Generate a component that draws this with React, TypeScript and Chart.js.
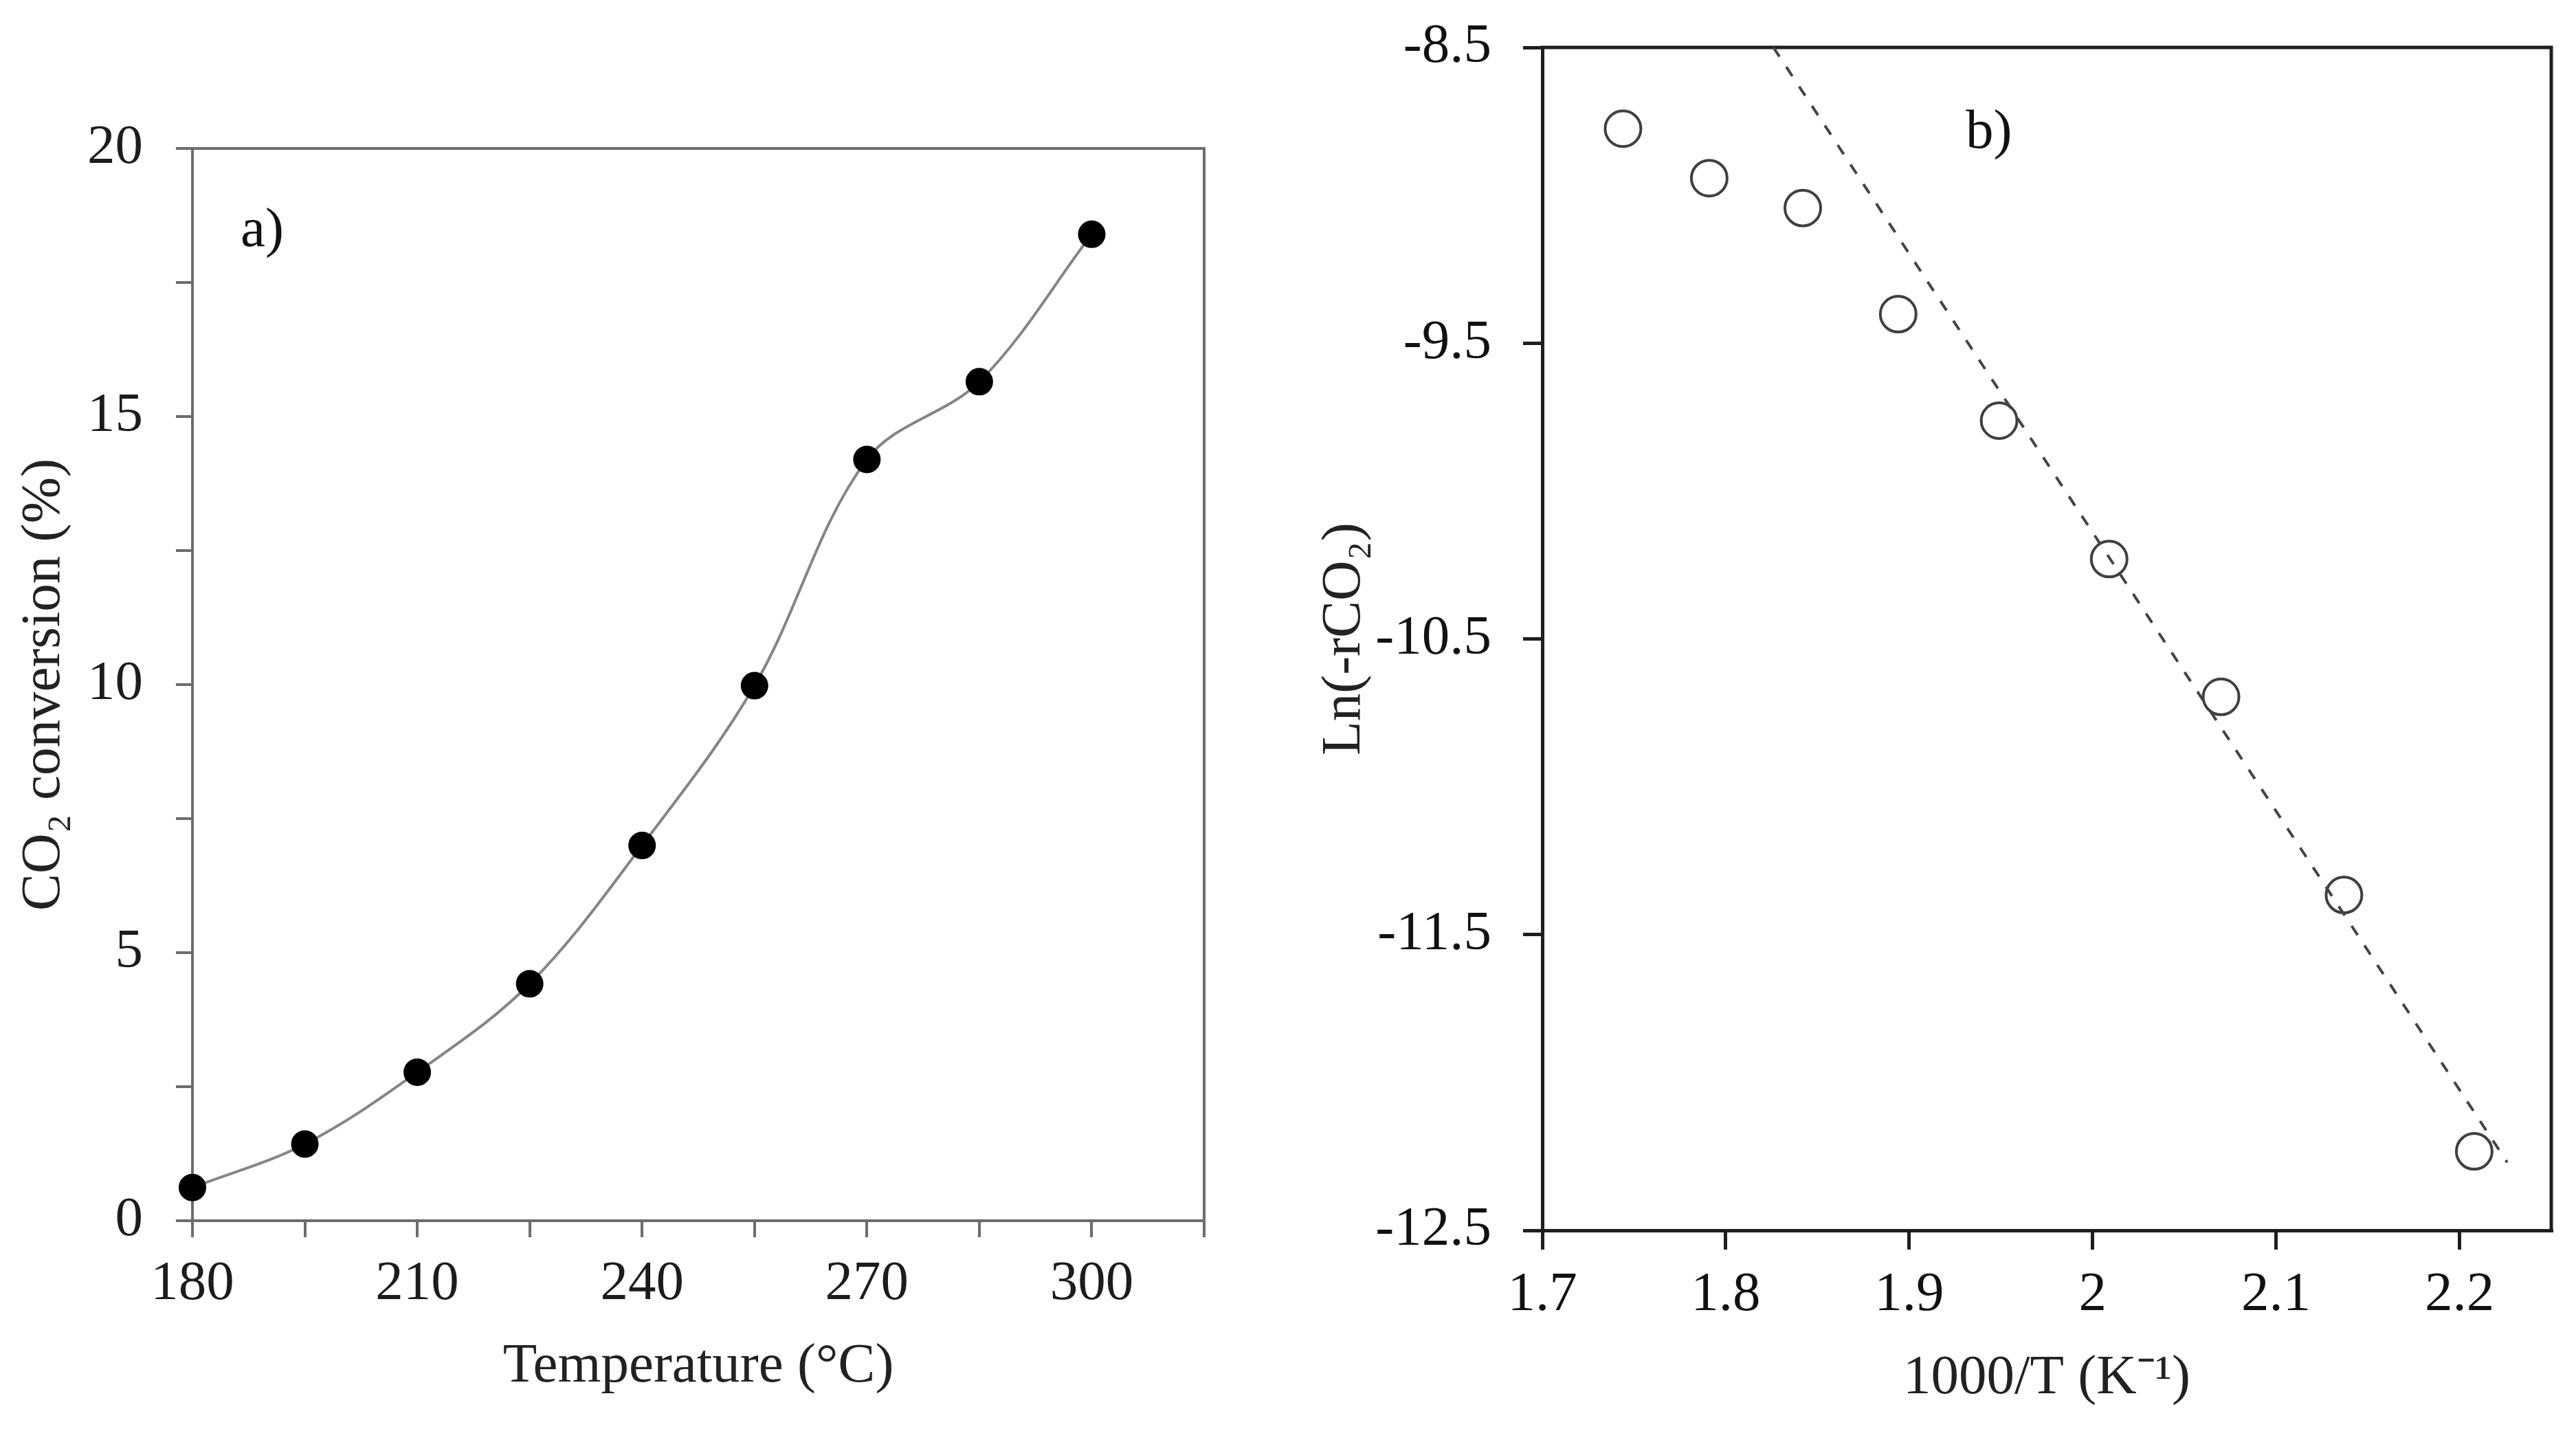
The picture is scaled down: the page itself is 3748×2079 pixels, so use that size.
import React, { useEffect, useRef } from 'react';
import { Chart, registerables } from 'chart.js';

Chart.register(...registerables);

// ---------- Panel a) data ----------
const temperatureC = [180, 195, 210, 225, 240, 255, 270, 285, 300];
const conversionPct = [0.62, 1.43, 2.77, 4.42, 7.0, 9.98, 14.2, 15.65, 18.4];
const tempTicks = [180, 195, 210, 225, 240, 255, 270, 285, 300, 315];
const tempTickLabels = [180, 210, 240, 270, 300];
const convTicks = [0, 2.5, 5, 7.5, 10, 12.5, 15, 17.5, 20];
const convTickLabels = [0, 5, 10, 15, 20];

// ---------- Panel b) data ----------
const invTemp = [1.744, 1.791, 1.842, 1.894, 1.949, 2.009, 2.07, 2.137, 2.208];
const lnRate = [-8.775, -8.942, -9.043, -9.402, -9.762, -10.23, -10.696, -11.366, -12.233];
const fitInvTemp = [1.826, 2.226];
const fitLnRate = [-8.5, -12.27];
const invTempTicks = [1.7, 1.8, 1.9, 2.0, 2.1, 2.2];
const lnRateTicks = [-12.5, -11.5, -10.5, -9.5, -8.5];

const FONT = "'Liberation Serif', 'Times New Roman', serif";
const FS = 81;

function zeroPad(s: any) {
  s.paddingTop = 0;
  s.paddingBottom = 0;
  s.paddingLeft = 0;
  s.paddingRight = 0;
}

function framePlugin(color: string, width: number, label: string, dx: number, dy: number) {
  return {
    id: 'frameAndLabel',
    beforeDatasetsDraw(chart: any) {
      const { ctx, chartArea: a } = chart;
      ctx.save();
      ctx.strokeStyle = color;
      ctx.lineWidth = width;
      ctx.beginPath();
      ctx.moveTo(a.left - width / 2, a.top);
      ctx.lineTo(a.right, a.top);
      ctx.lineTo(a.right, a.bottom + width / 2);
      ctx.stroke();
      ctx.restore();
    },
    afterDraw(chart: any) {
      const { ctx, chartArea: a } = chart;
      ctx.save();
      ctx.font = `${FS}px ${FONT}`;
      ctx.fillStyle = '#111';
      ctx.textBaseline = 'alphabetic';
      ctx.textAlign = 'left';
      ctx.fillText(label, a.left + dx, a.top + dy);
      ctx.restore();
    },
  };
}

function makeConfigA(): any {
  const AX = '#6c6c6c';
  return {
    type: 'line',
    data: {
      datasets: [
        {
          data: temperatureC.map((x, i) => ({ x, y: conversionPct[i] })),
          borderColor: '#858585',
          borderWidth: 4,
          tension: 0.35,
          fill: false,
          pointRadius: 19,
          pointBorderWidth: 2,
          pointBackgroundColor: '#000',
          pointBorderColor: '#000',
          clip: false,
        },
      ],
    },
    options: {
      responsive: false,
      animation: false,
      events: [],
      layout: { padding: { left: 0, top: 216, right: 48, bottom: 0 } },
      plugins: { legend: { display: false }, tooltip: { enabled: false } },
      scales: {
        x: {
          type: 'linear',
          min: 180,
          max: 315,
          afterFit: (s: any) => { s.height = 303; zeroPad(s); },
          afterBuildTicks: (s: any) => { s.ticks = tempTicks.map((v) => ({ value: v })); },
          ticks: {
            autoSkip: false,
            maxRotation: 0,
            minRotation: 0,
            padding: 20,
            color: '#1c1c1c',
            font: { family: FONT, size: FS },
            callback: (v: number) => (tempTickLabels.includes(v) ? String(v) : ''),
          },
          grid: { display: true, drawOnChartArea: false, drawTicks: true, tickLength: 24, color: AX, lineWidth: 4 },
          border: { display: true, color: AX, width: 4 },
          title: {
            display: true,
            text: 'Temperature (°C)',
            color: '#222',
            font: { family: FONT, size: FS },
            padding: { top: 0, bottom: 42 },
          },
        },
        y: {
          type: 'linear',
          min: 0,
          max: 20,
          afterFit: (s: any) => { s.width = 280; zeroPad(s); },
          afterBuildTicks: (s: any) => { s.ticks = convTicks.map((v) => ({ value: v })); },
          ticks: {
            autoSkip: false,
            padding: 48,
            color: '#1c1c1c',
            font: { family: FONT, size: FS },
            callback: (v: number) => (convTickLabels.includes(v) ? String(v) : ''),
          },
          grid: { display: true, drawOnChartArea: false, drawTicks: true, tickLength: 24, color: AX, lineWidth: 4 },
          border: { display: true, color: AX, width: 4 },
          title: {
            display: true,
            text: 'CO₂ conversion (%)',
            color: '#222',
            font: { family: FONT, size: FS },
            padding: { top: 16, bottom: 0 },
          },
        },
      },
    },
    plugins: [framePlugin(AX, 4, 'a)', 70, 142)],
  };
}

function makeConfigB(): any {
  const AX = '#1e1e1e';
  return {
    type: 'scatter',
    data: {
      datasets: [
        {
          data: fitInvTemp.map((x, i) => ({ x, y: fitLnRate[i] })),
          showLine: true,
          borderColor: '#444',
          borderWidth: 4,
          borderDash: [16, 18],
          pointRadius: 0,
          fill: false,
          clip: false,
        },
        {
          data: invTemp.map((x, i) => ({ x, y: lnRate[i] })),
          showLine: false,
          pointRadius: 26,
          pointBorderWidth: 4,
          pointBorderColor: '#404040',
          pointBackgroundColor: 'rgba(0,0,0,0)',
          clip: false,
        },
      ],
    },
    options: {
      responsive: false,
      animation: false,
      events: [],
      layout: { padding: { left: 0, top: 69, right: 36, bottom: 0 } },
      plugins: { legend: { display: false }, tooltip: { enabled: false } },
      scales: {
        x: {
          type: 'linear',
          min: 1.7,
          max: 2.25,
          afterFit: (s: any) => { s.height = 289; zeroPad(s); },
          afterBuildTicks: (s: any) => { s.ticks = invTempTicks.map((v) => ({ value: v })); },
          ticks: {
            autoSkip: false,
            maxRotation: 0,
            minRotation: 0,
            padding: 18,
            color: '#111',
            font: { family: FONT, size: FS },
            callback: (v: number) => String(Number(v.toFixed(1))),
          },
          grid: { display: true, drawOnChartArea: false, drawTicks: true, tickLength: 28, color: AX, lineWidth: 5 },
          border: { display: true, color: AX, width: 5 },
          title: {
            display: true,
            text: '1000/T (K⁻¹)',
            color: '#222',
            font: { family: FONT, size: FS },
            padding: { top: 0, bottom: 25 },
          },
        },
        y: {
          type: 'linear',
          min: -12.5,
          max: -8.5,
          afterFit: (s: any) => { s.width = 444; zeroPad(s); },
          afterBuildTicks: (s: any) => { s.ticks = lnRateTicks.map((v) => ({ value: v })); },
          ticks: {
            autoSkip: false,
            padding: 46,
            color: '#111',
            font: { family: FONT, size: FS },
            callback: (v: number) => v.toFixed(1),
          },
          grid: { display: true, drawOnChartArea: false, drawTicks: true, tickLength: 28, color: AX, lineWidth: 5 },
          border: { display: true, color: AX, width: 5 },
          title: {
            display: true,
            text: 'Ln(-rCO₂)',
            color: '#222',
            font: { family: FONT, size: FS },
            padding: { top: 108, bottom: 0 },
          },
        },
      },
    },
    plugins: [framePlugin(AX, 5, 'b)', 616, 146)],
  };
}

export default function App() {
  const refA = useRef<HTMLCanvasElement>(null);
  const refB = useRef<HTMLCanvasElement>(null);

  useEffect(() => {
    if (!refA.current || !refB.current) return;
    const a = new Chart(refA.current, makeConfigA());
    const b = new Chart(refB.current, makeConfigB());
    return () => {
      a.destroy();
      b.destroy();
    };
  }, []);

  return (
    <div style={{ position: 'fixed', left: 0, top: 0, width: 3748, height: 2079, background: '#fff', overflow: 'hidden' }}>
      <canvas ref={refA} width={1800} height={2079} style={{ position: 'absolute', left: 0, top: 0 }} />
      <canvas ref={refB} width={1948} height={2079} style={{ position: 'absolute', left: 1800, top: 0 }} />
    </div>
  );
}
